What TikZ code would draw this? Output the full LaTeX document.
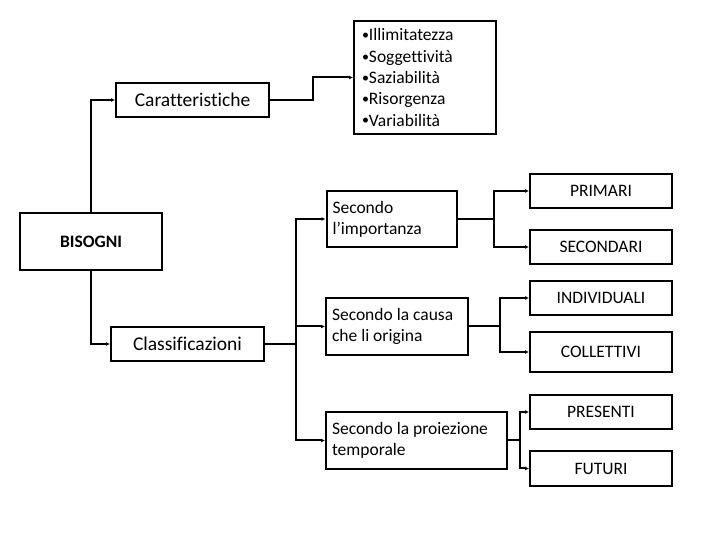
\documentclass[tikz,border=0pt]{standalone}
\usepackage{fontspec}
\setmainfont{Carlito}[Ligatures=NoCommon]
\usetikzlibrary{arrows.meta,positioning}
\newcommand{\punto}{{\fontsize{14bp}{14bp}\selectfont\raisebox{1.2bp}{•}}}

\begin{document}
\begin{tikzpicture}[x=10bp,y=10bp,
    box/.style={draw, line width=2bp, minimum height=34bp, inner sep=0pt,
      font=\fontsize{17.5bp}{21.3bp}\selectfont},
    tbox/.style={box, align=flush left, inner xsep=6bp},
    link/.style={line width=2bp},
    arr/.style={link, -{Latex[length=4bp,width=4bp]}}]
    \useasboundingbox (0,0) rectangle (72,54);

    % Bisogni e caratteristiche
    \node[box, minimum width=142bp, minimum height=57bp, font=\fontsize{17.5bp}{21bp}\selectfont\bfseries] (bisogni) at (9.1,29.85) {BISOGNI};
    \node[box, minimum width=153bp, font=\fontsize{19.5bp}{24bp}\selectfont] (carat) at (19.25,44) {Caratteristiche};
    \node[tbox, inner xsep=8bp, text width=126bp, minimum height=113bp] (lista) at (42.5,46.25)
      {\punto Illimitatezza\\\punto Soggettività\\\punto Saziabilità\\\punto Risorgenza\\\punto Variabilità};
    \draw[arr] (bisogni.north) |- (carat.west);
    \draw[arr] (carat.east) -- ++(4.27,0) |- (lista.west);

    % Classificazioni
    \node[box, minimum width=153bp, font=\fontsize{19.5bp}{24bp}\selectfont] (classif) at (18.75,19.6) {Classificazioni};
    \node[tbox, text width=118bp, minimum height=56bp] (imp) at (39.15,32.1) {Secondo\\l’importanza};
    \node[tbox, text width=130bp, minimum height=57bp] (causa) at (39.7,21.35) {Secondo la causa\\che li origina};
    \node[tbox, text width=169bp, minimum height=57bp] (proiez) at (41.65,9.95) {Secondo la proiezione\\temporale};
    \draw[arr] (bisogni.south) |- (classif.west);
    \draw[link] (classif.east) -- ++(3.1,0) coordinate (trunk);
    \draw[arr] (trunk) |- (imp.west);
    \draw[arr] (trunk) |- (causa.west);
    \draw[arr] (trunk) |- (proiez.west);

    % Tipi di bisogni
    \node[box, minimum width=142bp] (primari) at (60.1,34.9) {PRIMARI};
    \node[box, minimum width=142bp] (secondari) at (60.1,29.3) {SECONDARI};
    \node[box, minimum width=142bp] (individ) at (60.1,24.2) {INDIVIDUALI};
    \node[box, minimum width=142bp, minimum height=40bp] (collett) at (60.1,18.8) {COLLETTIVI};
    \node[box, minimum width=142bp] (presenti) at (60.1,12.8) {PRESENTI};
    \node[box, minimum width=142bp, minimum height=35bp] (futuri) at (60.1,7.15) {FUTURI};
    \draw[link] (imp.east) -- ++(3.6,0) coordinate (impfork);
    \draw[arr] (impfork) |- (primari.west);
    \draw[arr] (impfork) |- (secondari.west);
    \draw[link] (causa.east) -- ++(3.05,0) coordinate (causafork);
    \draw[arr] (causafork) |- (individ.west);
    \draw[arr] (causafork) |- (collett.west);
    \draw[link] (proiez.east) -- ++(1.2,0) coordinate (proiezfork);
    \draw[arr] (proiezfork) |- (presenti.west);
    \draw[arr] (proiezfork) |- (futuri.west);
\end{tikzpicture}
\end{document}
